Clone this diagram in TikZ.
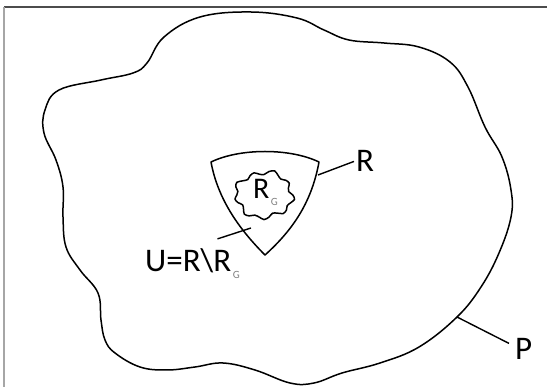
\documentclass[tikz,border=0pt]{standalone}
\usepackage{fontspec}
\setmainfont{Carlito}
\usetikzlibrary{calc}

% small grey subscript G
\newcommand{\gsub}{\kern1.5pt\raisebox{-7pt}{\fontsize{11}{11}\selectfont\color{black!50}G}}

\begin{document}
\begin{tikzpicture}[x=1pt, y=-1pt,
		outline/.style = {draw, line width=1.5pt, line join=round},
		leader/.style  = {draw, line width=1.4pt},
		lbl/.style     = {inner sep=2pt, font=\fontsize{33}{33}\selectfont},
		frame/.style   = {line width=1.1pt}]

	\useasboundingbox (0,0) rectangle (547,387);

	% frame lines at top and left
	\draw[frame, black!70] (4,7) -- (547,7);
	\draw[frame, black!35, line width=1.5pt] (4,7) -- (4,387);

	% outer region P
	\draw[outline] plot[smooth cycle, tension=0.65] coordinates {
		(200,17) (251,12) (297,18) (324,30) (349,40) (384,43) (419,47)
		(450,62) (468,87) (485,127) (502,157) (511,190) (511,217)
		(499,253) (481,287) (457,317) (419,347) (380,363) (342,373)
		(314,383) (290,383) (255,370) (223,363) (195,367) (167,370)
		(140,367) (115,353) (105,340) (101,320) (98,293) (80,270)
		(66,247) (63,217) (63,187) (56,160) (44,133) (45,110) (59,90)
		(101,80) (133,73) (147,63) (164,37)};

	% region R
	\draw[outline] (211,162) .. controls (240,148) and (290,148) .. (319,162)
		.. controls (312,200) and (295,228) .. (265,255)
		.. controls (240,230) and (218,200) .. cycle;

	% inner region R_G
	\draw[outline] plot[smooth cycle, domain=0:350, samples=36]
		({264+(28+2.4*sin(9*\x+20)+1.2*sin(4*\x))*cos(\x)},
		 {195+(22.5+2.2*sin(9*\x+20)+1*sin(4*\x))*sin(\x)});

	% pins on the outlines
	\coordinate (ppin) at (457,317);
	\coordinate (rpin) at (318,175);
	\coordinate (upin) at (251,228);

	% labels
	\node[lbl, font=\fontsize{30}{30}\selectfont, anchor=base west] (rg) at (251,199) {R\gsub};
	\node[lbl, anchor=base west] (rlabel) at (354,172) {R};
	\node[lbl, anchor=base west] (plabel) at (513,360) {P};
	\node[lbl, anchor=base west] (ulabel) at (143,272) {U=R\textbackslash R\gsub};

	% leader lines
	\draw[leader] (rpin) -- (rlabel.west);
	\draw[leader] (ppin) -- ([xshift=-4pt, yshift=6pt]plabel.west);
	\draw[leader] (upin) -- ([xshift=25pt, yshift=8pt]ulabel.north);

\end{tikzpicture}
\end{document}
